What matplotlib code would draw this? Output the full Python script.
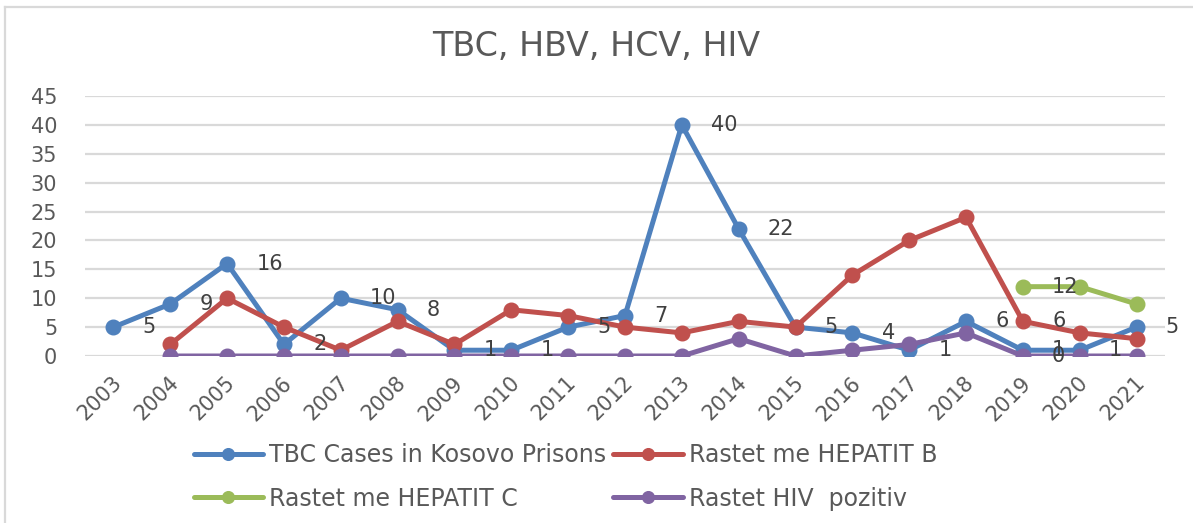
import matplotlib
matplotlib.use("Agg")
import matplotlib.pyplot as plt
import matplotlib.transforms as mtransforms
from matplotlib.lines import Line2D

plt.rcParams["font.family"] = ["DejaVu Sans"]

YEARS = [str(y) for y in range(2003, 2022)]

TBC = [5, 9, 16, 2, 10, 8, 1, 1, 5, 7, 40, 22, 5, 4, 1, 6, 1, 1, 5]
HBV = [None, 2, 10, 5, 1, 6, 2, 8, 7, 5, 4, 6, 5, 14, 20, 24, 6, 4, 3]
HCV = [None] * 16 + [12, 12, 9]
HIV = [None, 0, 0, 0, 0, 0, 0, 0, 0, 0, 0, 3, 0, 1, 2, 4, 0, 0, 0]

SERIES_NAMES = [
    "TBC Cases in Kosovo Prisons",
    "Rastet me HEPATIT B",
    "Rastet me HEPATIT C",
    "Rastet HIV  pozitiv",
]
COLORS = ["#4F81BD", "#C0504D", "#9BBB59", "#8064A2"]

TEXT_GREY = "#595959"
LABEL_GREY = "#404040"


def xs_ys(values):
    pairs = [(i, v) for i, v in enumerate(values) if v is not None]
    return [p[0] for p in pairs], [p[1] for p in pairs]


fig = plt.figure(figsize=(11.93, 5.23), dpi=100)
ax = fig.add_axes([85 / 1193, 167 / 523, 1080 / 1193, 260 / 523])

# chart frame: only its left and top edges fall inside the crop
frame_x = 5 / 1193
frame_y = 1 - 7 / 523
fig.add_artist(Line2D([frame_x, frame_x], [-0.1, frame_y], transform=fig.transFigure,
                      color="#D9D9D9", linewidth=1.6))
fig.add_artist(Line2D([frame_x, 1.1], [frame_y, frame_y], transform=fig.transFigure,
                      color="#D9D9D9", linewidth=1.6))

handles = []
for values, name, color in zip([TBC, HBV, HCV, HIV], SERIES_NAMES, COLORS):
    x, y = xs_ys(values)
    (line,) = ax.plot(x, y, color=color, linewidth=3.6, marker="o",
                      markersize=10.5, solid_capstyle="round", label=name, zorder=3)
    handles.append(line)

# data labels: every TBC point, plus the 2019 point of the other series
label_style = dict(textcoords="offset points", xytext=(21, 0), va="center",
                   ha="left", fontsize=15, color=LABEL_GREY, zorder=5)
for i, v in enumerate(TBC):
    ax.annotate(str(v), (i, v), **label_style)
idx_2019 = YEARS.index("2019")
for values in [HBV, HCV, HIV]:
    ax.annotate(str(values[idx_2019]), (idx_2019, values[idx_2019]), **label_style)

ax.set_xlim(-0.5, len(YEARS) - 0.5)
ax.set_ylim(0, 45)
ax.set_yticks(range(0, 50, 5))
ax.set_xticks(range(len(YEARS)))
ax.set_xticklabels(YEARS, rotation=45, ha="right", va="top", rotation_mode="anchor")
ax.grid(axis="y", color="#D9D9D9", linewidth=1.6)
ax.set_axisbelow(True)
for side in ["top", "right", "left", "bottom"]:
    ax.spines[side].set_visible(False)
ax.tick_params(axis="both", length=0, labelsize=15, labelcolor=TEXT_GREY)
ax.tick_params(axis="y", pad=20)
ax.tick_params(axis="x", pad=12)
shift = mtransforms.ScaledTranslation(-2 / 100, 0, fig.dpi_scale_trans)
for lab in ax.get_xticklabels():
    lab.set_transform(lab.get_transform() + shift)

fig.text(0.5, 1 - 47 / 523, "TBC, HBV, HCV, HIV", ha="center", va="center",
         fontsize=24, color=TEXT_GREY)

# legend fills column-wise, so order handles to read row by row
order = [0, 2, 1, 3]
leg = fig.legend(handles=[handles[k] for k in order],
                 labels=[SERIES_NAMES[k] for k in order], ncol=2, loc="center",
                 bbox_to_anchor=(0.474, 1 - 477 / 523), frameon=False,
                 fontsize=17, handlelength=2.95, handletextpad=0.25,
                 columnspacing=0.3, labelspacing=0.82, markerscale=0.8)
for t in leg.get_texts():
    t.set_color(TEXT_GREY)

fig.savefig("out.png", dpi=100)
